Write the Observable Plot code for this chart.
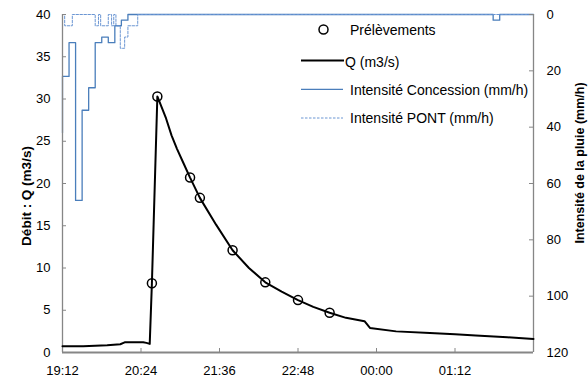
<!DOCTYPE html>
<html>
<head>
<meta charset="utf-8">
<script src="https://cdn.jsdelivr.net/npm/d3@7"></script>
<script src="https://cdn.jsdelivr.net/npm/@observablehq/plot@0.6"></script>
<style>
  html, body { margin: 0; padding: 0; background: #fff; }
  #chart { width: 588px; height: 387px; }
</style>
</head>
<body>
<div id="chart"></div>
<script>
// ---- Data ----
// Débit Q (m3/s)
const qTimes  = ["19:12","19:31","19:53","20:05","20:09","20:14","20:26","20:29","20:32","20:34","20:39","20:47","20:52","20:57","21:03","21:09","21:18","21:33","21:48","22:03","22:18","22:33","22:48","23:02","23:17","23:32","23:49","23:54","00:18","00:49","01:12","01:31","02:00","02:24"];
const qValues = [0.75,0.75,0.87,0.98,1.2,1.22,1.22,1.14,1.02,8.2,30.3,27.7,25.7,24.1,22.4,20.7,18.3,15.1,12.1,10.0,8.3,7.2,6.2,5.4,4.7,4.1,3.7,2.9,2.5,2.3,2.15,2.0,1.8,1.6];
// Prélèvements (samples)
const sampleTimes  = ["20:34","20:39","21:09","21:18","21:48","22:18","22:48","23:17"];
const sampleValues = [8.2,30.3,20.7,18.3,12.1,8.3,6.2,4.7];
// Intensité Concession (mm/h), value holds from the time until the next one
const concTimes  = ["19:12","19:12","19:18","19:24","19:30","19:36","19:42","19:48","19:54","20:00","20:06","20:12","01:47","01:53","02:24"];
const concValues = [42,22,10,66,34,26,10,8,10,4,2,0,2,0,0];
// Intensité PONT (mm/h)
const pontTimes  = ["19:12","19:14","19:21","19:42","19:45","19:47","19:54","19:57","19:59","20:01","20:05","20:09","20:12","20:21","02:24"];
const pontValues = [0,4,0,4,0,4,0,4,0,4,12,8,4,0,0];
// Axis ticks
const xTickLabels = ["19:12","20:24","21:36","22:48","00:00","01:12"];
const qTicks = [0,5,10,15,20,25,30,35,40];
const rainTicks = [0,20,40,60,80,100,120];

// ---- helpers ----
const T0 = 19 * 60 + 12;
function toMin(s) {
  const [h, m] = s.split(":").map(Number);
  let t = h * 60 + m;
  if (t < T0) t += 1440;
  return t - T0;
}
function fmt(m) {
  const t = (T0 + m) % 1440;
  return String(Math.floor(t / 60)).padStart(2, "0") + ":" + String(t % 60).padStart(2, "0");
}
const RAIN_MAX = 120, Q_MAX = 40;
const rainY = v => Q_MAX - v * Q_MAX / RAIN_MAX;

const q = qTimes.map((t, i) => ({t: toMin(t), v: qValues[i]}));
const samples = sampleTimes.map((t, i) => ({t: toMin(t), v: sampleValues[i]}));
const conc = concTimes.map((t, i) => ({t: toMin(t), v: concValues[i]}));
const pont = pontTimes.map((t, i) => ({t: toMin(t), v: pontValues[i]}));
const xTicks = xTickLabels.map(toMin);

const W = 588, H = 387, mL = 62, mR = 55, mT = 14, mB = 35;
const fw = W - mL - mR, fh = H - mT - mB;
const axisGrey = "#868686";
const blue = "#4a7ebb", blueLight = "#6b96d3";

const svg = Plot.plot({
  width: W, height: H,
  marginLeft: mL, marginRight: mR, marginTop: mT, marginBottom: mB,
  style: {fontFamily: "'Liberation Sans', Arial, sans-serif", fontSize: "13px", background: "#fff", color: "#000", overflow: "visible"},
  x: {domain: [0, 432], axis: null},
  y: {domain: [0, Q_MAX], axis: null},
  marks: [
    // rain series (right axis, inverted)
    Plot.line(conc, {x: "t", y: d => rainY(d.v), curve: "step-after", stroke: blue, strokeWidth: 1.3}),
    Plot.line(pont, {x: "t", y: d => rainY(d.v), curve: "step-after", stroke: blueLight, strokeWidth: 1, strokeDasharray: "2.5,1.5"}),
    // axis lines
    Plot.ruleX([0], {stroke: axisGrey, strokeWidth: 1.3}),
    Plot.ruleX([432], {stroke: axisGrey, strokeWidth: 1.3}),
    // inner ticks
    Plot.tickY(qTicks, {y: d => d, insetRight: fw - 4, stroke: axisGrey}),
    Plot.tickY(rainTicks, {y: d => rainY(d), insetLeft: fw - 4, stroke: axisGrey}),
    Plot.tickX(xTicks, {x: d => d, insetTop: fh - 4, stroke: axisGrey}),
    // discharge
    Plot.line(q, {x: "t", y: "v", stroke: "#000", strokeWidth: 2, curve: "linear"}),
    Plot.dot(samples, {x: "t", y: "v", r: 4.5, stroke: "#000", strokeWidth: 1.5, fill: "none"}),
    Plot.ruleY([0], {stroke: axisGrey, strokeWidth: 2}),
    // tick labels
    Plot.axisX(xTicks, {tickSize: 0, tickPadding: 13, tickFormat: fmt, label: null, fontSize: 13}),
    Plot.axisY(qTicks, {anchor: "left", tickSize: 0, tickPadding: 12, label: null, fontSize: 13}),
    Plot.axisY(rainTicks.map(rainY), {anchor: "right", tickSize: 0, tickPadding: 13, label: null, fontSize: 13,
      tickFormat: y => String(Math.round((Q_MAX - y) * RAIN_MAX / Q_MAX))})
  ]
});

// axis titles and legend
const s = d3.select(svg);
const font = "'Liberation Sans', Arial, sans-serif";
s.append("text").attr("transform", "translate(31,196) rotate(-90)")
  .attr("text-anchor", "middle").attr("font-family", font).attr("font-size", 13.5).attr("font-weight", "bold")
  .attr("fill", "#000").text("Débit : Q (m3/s)");
s.append("text").attr("transform", "translate(584,163) rotate(-90)")
  .attr("text-anchor", "middle").attr("font-family", font).attr("font-size", 12.5).attr("font-weight", "bold")
  .attr("fill", "#000").text("Intensité de la pluie (mm/h)");

const lg = s.append("g").attr("font-family", font).attr("font-size", 14).attr("fill", "#000").attr("text-anchor", "start");
lg.append("circle").attr("cx", 323.5).attr("cy", 29.5).attr("r", 4.5).attr("fill", "none").attr("stroke", "#000").attr("stroke-width", 1.5);
lg.append("text").attr("x", 350).attr("y", 34.5).attr("text-anchor", "start").text("Prélèvements");
lg.append("line").attr("x1", 301).attr("x2", 344).attr("y1", 60.5).attr("y2", 60.5).attr("stroke", "#000").attr("stroke-width", 2);
lg.append("text").attr("x", 345).attr("y", 66.5).attr("text-anchor", "start").text("Q (m3/s)");
lg.append("line").attr("x1", 301).attr("x2", 343).attr("y1", 89.3).attr("y2", 89.3).attr("stroke", blue).attr("stroke-width", 1.3);
lg.append("text").attr("x", 350).attr("y", 94.5).attr("text-anchor", "start").text("Intensité Concession (mm/h)");
lg.append("line").attr("x1", 301).attr("x2", 343).attr("y1", 118).attr("y2", 118).attr("stroke", blueLight).attr("stroke-width", 1).attr("stroke-dasharray", "2.5,1.5");
lg.append("text").attr("x", 350).attr("y", 123).attr("text-anchor", "start").text("Intensité PONT (mm/h)");

document.getElementById("chart").appendChild(svg);
</script>
</body>
</html>
